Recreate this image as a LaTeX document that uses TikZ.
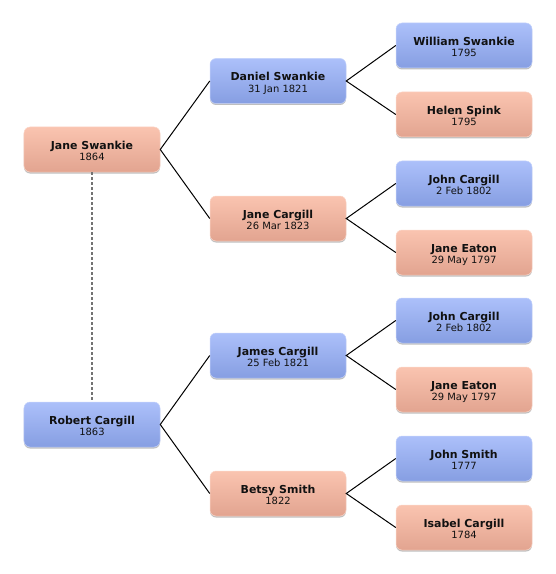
\documentclass[tikz,border=0pt]{standalone}
\usepackage{fontspec}
\setmainfont{DejaVu Sans}
\usetikzlibrary{shadows}
\definecolor{bluetop}{RGB}{172,192,250}
\definecolor{bluebot}{RGB}{134,158,226}
\definecolor{pinktop}{RGB}{250,196,176}
\definecolor{pinkbot}{RGB}{226,164,144}
\definecolor{txt}{RGB}{17,17,17}
\newcommand{\pname}[2]{\raisebox{-2.5bp}[\height][\depth]{\parbox{130bp}{\centering
  \fontsize{11}{12}\selectfont\rule{0pt}{9bp}\textbf{#1}\\
  \fontsize{10}{12}\selectfont\rule[-3bp]{0pt}{3bp}#2\par}}}
\tikzset{
  person/.style={rounded corners=6bp, minimum width=136bp, minimum height=45bp,
    inner sep=0pt, align=center, text=txt,
    drop shadow={shadow xshift=0bp, shadow yshift=-1.5bp, opacity=0.25, fill=black}},
  male/.style={person, top color=bluetop, bottom color=bluebot, draw=bluetop!70!white, line width=0.5bp},
  female/.style={person, top color=pinktop, bottom color=pinkbot, draw=pinktop!70!white, line width=0.5bp},
  link/.style={line width=1bp, black},
  spouse/.style={line width=1.2bp, black!55, dash pattern=on 3bp off 2bp}
}
\begin{document}
\begin{tikzpicture}[x=1bp,y=-1bp]
\useasboundingbox (0,0) rectangle (556,574);
% left column
\node[female] (js) at (92,149.5) {\pname{Jane Swankie}{1864}};
\node[male] (rc) at (92,424.5) {\pname{Robert Cargill}{1863}};
% middle column
\node[male] (ds) at (278,81) {\pname{Daniel Swankie}{31 Jan 1821}};
\node[female] (jc) at (278,218.5) {\pname{Jane Cargill}{26 Mar 1823}};
\node[male] (jac) at (278,355.5) {\pname{James Cargill}{25 Feb 1821}};
\node[female] (bs) at (278,493.5) {\pname{Betsy Smith}{1822}};
% right column
\node[male] (ws) at (464,45.5) {\pname{William Swankie}{1795}};
\node[female] (hs) at (464,114.5) {\pname{Helen Spink}{1795}};
\node[male] (jc1) at (464,183.5) {\pname{John Cargill}{2 Feb 1802}};
\node[female] (je1) at (464,252.5) {\pname{Jane Eaton}{29 May 1797}};
\node[male] (jc2) at (464,320.5) {\pname{John Cargill}{2 Feb 1802}};
\node[female] (je2) at (464,389.5) {\pname{Jane Eaton}{29 May 1797}};
\node[male] (jsm) at (464,458.5) {\pname{John Smith}{1777}};
\node[female] (ic) at (464,527.5) {\pname{Isabel Cargill}{1784}};
% connectors
\draw[link] (ds.west) -- (js.east) -- (jc.west);
\draw[link] (jac.west) -- (rc.east) -- (bs.west);
\draw[link] (ws.west) -- (ds.east) -- (hs.west);
\draw[link] (jc1.west) -- (jc.east) -- (je1.west);
\draw[link] (jc2.west) -- (jac.east) -- (je2.west);
\draw[link] (jsm.west) -- (bs.east) -- (ic.west);
\draw[spouse] (js.south) -- (rc.north);
\end{tikzpicture}
\end{document}
